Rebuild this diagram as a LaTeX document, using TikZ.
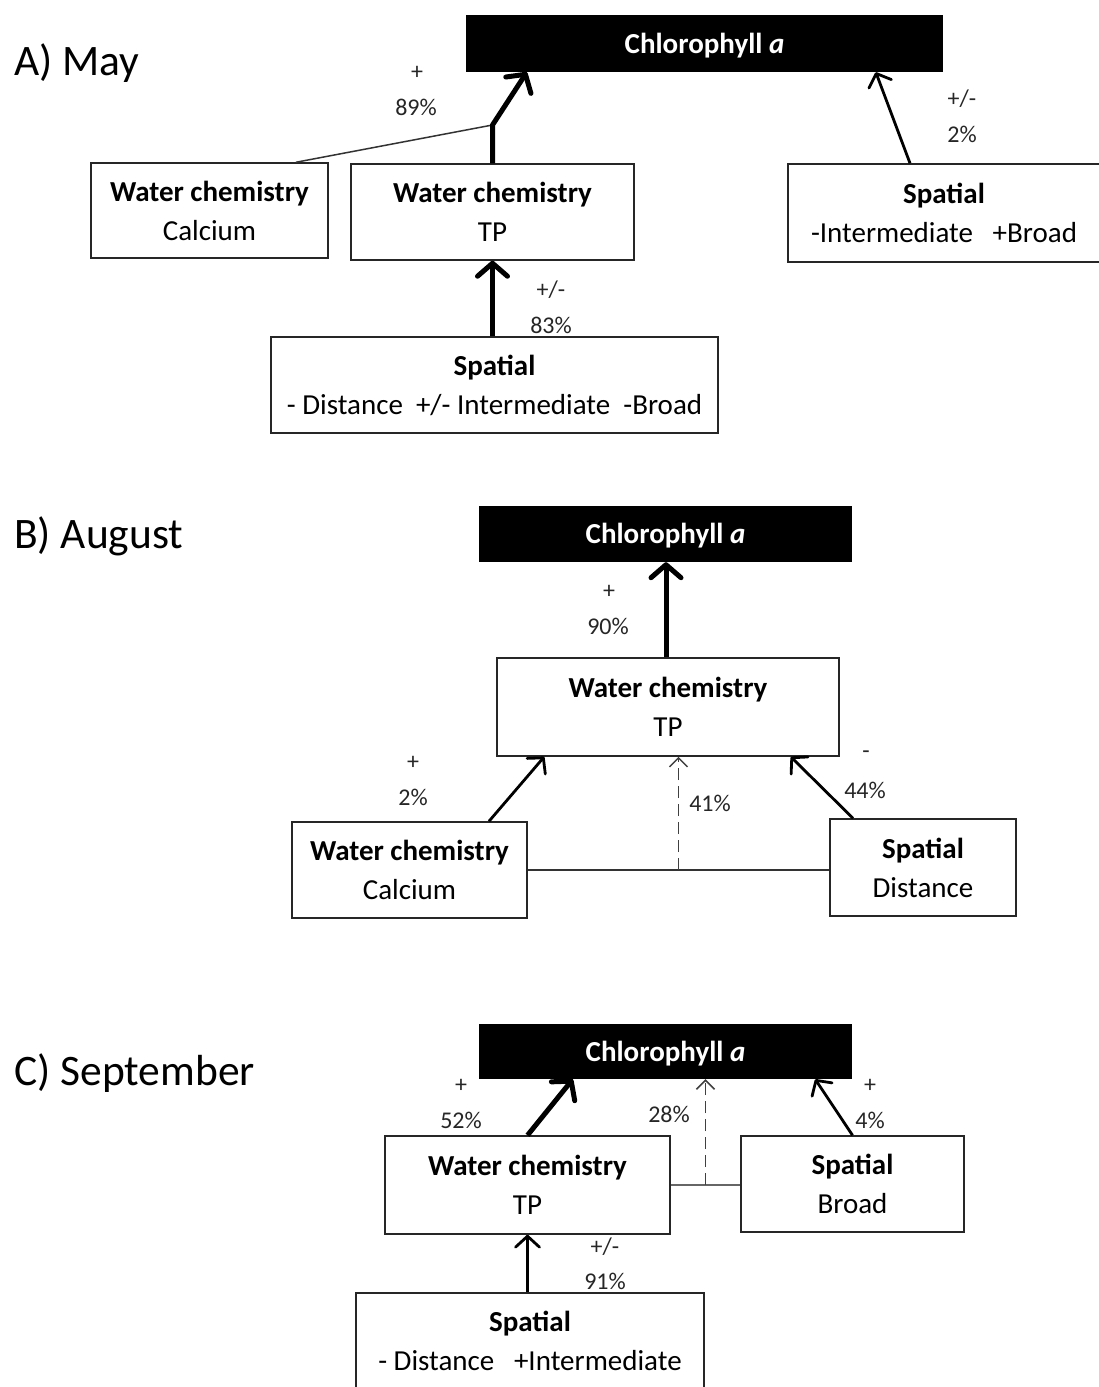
\documentclass[tikz,border=0pt]{standalone}
\usepackage{fontspec}
\setmainfont{Carlito}
\usetikzlibrary{arrows.meta,calc}
\begin{document}
\begin{tikzpicture}[x=1pt,y=-1pt,
  box/.style={draw=black!85, line width=1.5pt, fill=white, align=center, inner sep=0pt, font=\fontsize{29}{39}\selectfont},
  chl/.style={fill=black, text=white, inner sep=0pt, text height=22pt, text depth=3pt, font=\bfseries\fontsize{29}{30}\selectfont},
  lbl/.style={font=\fontsize{24}{26}\selectfont, inner sep=0pt, text=black!85},
  heading/.style={font=\fontsize{43.5}{46}\selectfont, anchor=west, inner sep=0pt},
  bigarr/.style={line width=5pt, line join=round, -{Straight Barb[length=13pt,width=30pt,round]}},
  medarr/.style={line width=2.8pt, -{Straight Barb[length=11pt,width=24pt,round]}},
  dasharr/.style={line width=1.5pt, draw=black!75, dash pattern=on 12pt off 6pt, -{Straight Barb[length=9pt,width=18pt]}},
  thinline/.style={line width=1.5pt, draw=black!80}]
\useasboundingbox (0,0) rectangle (1098,1387);

% ---------------- A) May ----------------
\node[heading] (hA) at (14,63) {A) May};
\node[chl, minimum width=477pt, minimum height=57pt] (chlA) at (704.5,43.5) {Chlorophyll \textit{a}};
\node[box, minimum width=237pt, minimum height=95pt] (calA) at (209.5,210.5) {\textbf{Water chemistry}\\Calcium};
\node[box, minimum width=283pt, minimum height=96pt] (tpA) at (492.5,212) {\textbf{Water chemistry}\\TP};
\node[box, minimum width=312pt, minimum height=98pt] (spRA) at (944,213) {\textbf{Spatial}\\-Intermediate~~~+Broad};
\node[box, minimum width=447pt, minimum height=96pt] (spBA) at (494.5,385) {\textbf{Spatial}\\- Distance~~+/- Intermediate~~-Broad};
\coordinate (jA) at (492.5,125);
\draw[thinline] ([xshift=86.5pt]calA.north) -- (jA);
\draw[bigarr] (tpA.north) -- (jA) -- ([xshift=61pt]chlA.south west);
\draw[medarr] ([xshift=-34pt]spRA.north) -- ([xshift=410pt]chlA.south west);
\draw[bigarr] (spBA.north -| tpA.south) -- (tpA.south);
\node[lbl] (lA1) at (417,73) {+};
\node[lbl] (lA2) at (416,107) {89\%};
\node[lbl] (lA3) at (962,99) {+/-};
\node[lbl] (lA4) at (962,134) {2\%};
\node[lbl] (lA5) at (551,290) {+/-};
\node[lbl] (lA6) at (551,325) {83\%};

% ---------------- B) August ----------------
\node[heading] (hB) at (14,536) {B) August};
\node[chl, minimum width=373pt, minimum height=56pt] (chlB) at (665.5,534) {Chlorophyll \textit{a}};
\node[box, minimum width=342pt, minimum height=98pt] (tpB) at (668,707) {\textbf{Water chemistry}\\TP};
\node[box, minimum width=235pt, minimum height=96pt] (calB) at (409.5,870) {\textbf{Water chemistry}\\Calcium};
\node[box, minimum width=186pt, minimum height=97pt] (spB) at (923,867.5) {\textbf{Spatial}\\Distance};
\draw[bigarr] ([xshift=-2pt]tpB.north) -- ([xshift=-2pt]tpB.north |- chlB.south);
\draw[medarr] ([xshift=79.5pt]calB.north) -- ([xshift=48pt]tpB.south west);
\draw[medarr] ([xshift=-70pt]spB.north) -- ([xshift=-49pt]tpB.south east);
\coordinate (mB) at ($(calB.east)!0.5!(calB.east -| spB.west)$);
\draw[thinline] (calB.east) -- (calB.east -| spB.west);
\draw[dasharr] (mB) -- (mB |- tpB.south);
\node[lbl] (lB1) at (609,592) {+};
\node[lbl] (lB2) at (608,626) {90\%};
\node[lbl] (lB3) at (413,763) {+};
\node[lbl] (lB4) at (413,797) {2\%};
\node[lbl] (lB5) at (866,755) {-};
\node[lbl] (lB6) at (865,790) {44\%};
\node[lbl] (lB7) at (710,803) {41\%};

% ---------------- C) September ----------------
\node[heading] (hC) at (14,1073) {C) September};
\node[chl, minimum width=373pt, minimum height=55pt] (chlC) at (665.5,1051.5) {Chlorophyll \textit{a}};
\node[box, minimum width=285pt, minimum height=98pt] (tpC) at (527.5,1185) {\textbf{Water chemistry}\\TP};
\node[box, minimum width=223pt, minimum height=96pt] (brC) at (852.5,1184) {\textbf{Spatial}\\Broad};
\node[box, minimum width=348pt, minimum height=96pt] (spC) at (530,1341) {\textbf{Spatial}\\- Distance~~~+Intermediate};
\draw[bigarr] (tpC.north) -- ([xshift=94pt]chlC.south west);
\draw[medarr] (brC.north) -- ([xshift=-37pt]chlC.south east);
\coordinate (mC) at ($(tpC.east)!0.5!(tpC.east -| brC.west)$);
\draw[thinline, draw=black!60] (tpC.east) -- (tpC.east -| brC.west);
\draw[dasharr] (mC) -- (mC |- chlC.south);
\draw[medarr] (spC.north -| tpC.south) -- (tpC.south);
\node[lbl] (lC1) at (461,1086) {+};
\node[lbl] (lC2) at (461,1120) {52\%};
\node[lbl] (lC3) at (870,1086) {+};
\node[lbl] (lC4) at (870,1120) {4\%};
\node[lbl] (lC5) at (669,1114) {28\%};
\node[lbl] (lC6) at (605,1247) {+/-};
\node[lbl] (lC7) at (605,1281) {91\%};
\end{tikzpicture}
\end{document}
